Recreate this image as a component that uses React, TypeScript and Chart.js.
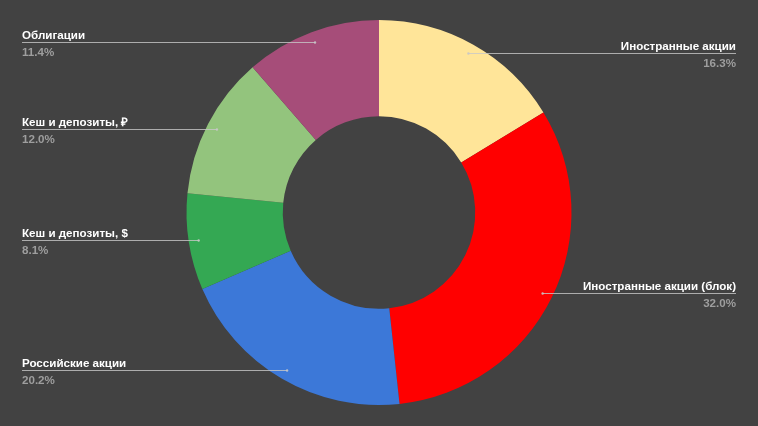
import React, { useEffect, useRef } from "react";
import { Chart, registerables } from "chart.js";

Chart.register(...registerables);

const categories = [
  "Иностранные акции",
  "Иностранные акции (блок)",
  "Российские акции",
  "Кеш и депозиты, $",
  "Кеш и депозиты, ₽",
  "Облигации",
];
const values = [16.3, 32.0, 20.2, 8.1, 12.0, 11.4];
const percentLabels = ["16.3%", "32.0%", "20.2%", "8.1%", "12.0%", "11.4%"];
const colors = ["#FFE599", "#FF0000", "#3C78D8", "#34A853", "#93C47D", "#A64D79"];

const BG = "#424242";

const labelPlugin = {
  id: "leaderLabels",
  afterDatasetsDraw(chart: any) {
    const ctx = chart.ctx as CanvasRenderingContext2D;
    const meta = chart.getDatasetMeta(0);
    const leftX = 22;
    const rightX = chart.width - 22;
    ctx.save();
    meta.data.forEach((arc: any, i: number) => {
      const p = arc.getProps(["x", "y", "startAngle", "endAngle", "outerRadius"], true);
      const mid = (p.startAngle + p.endAngle) / 2;
      const r = p.outerRadius * 0.948;
      const px = p.x + Math.cos(mid) * r;
      const py = Math.round(p.y + Math.sin(mid) * r) + 0.5;
      const left = px < p.x;
      ctx.strokeStyle = "rgba(200,200,200,0.8)";
      ctx.lineWidth = 1;
      ctx.beginPath();
      if (left) {
        ctx.moveTo(leftX, py);
        ctx.lineTo(px, py);
      } else {
        ctx.moveTo(px, py);
        ctx.lineTo(rightX, py);
      }
      ctx.stroke();
      ctx.fillStyle = "rgba(200,200,200,0.9)";
      ctx.beginPath();
      ctx.arc(px, py, 1.2, 0, Math.PI * 2);
      ctx.fill();
      ctx.textAlign = left ? "left" : "right";
      ctx.textBaseline = "alphabetic";
      ctx.font = "bold 11.6px 'Liberation Sans', Arial, sans-serif";
      ctx.fillStyle = "#FFFFFF";
      const tx = left ? leftX : rightX;
      ctx.fillText(categories[i], tx, py - 4);
      ctx.fillStyle = "#9E9E9E";
      ctx.fillText(percentLabels[i], tx, py + 13);
    });
    ctx.restore();
  },
};

export default function App() {
  const ref = useRef<HTMLCanvasElement>(null);
  useEffect(() => {
    document.body.style.margin = "0";
    const chart = new Chart(ref.current!, {
      type: "doughnut",
      data: {
        labels: categories,
        datasets: [
          {
            data: values,
            backgroundColor: colors,
            borderWidth: 0,
          },
        ],
      },
      options: {
        animation: false,
        responsive: false,
        cutout: "50%",
        layout: { padding: { top: 20, bottom: 21, left: 0, right: 0 } },
        plugins: {
          legend: { display: false },
          tooltip: { enabled: false },
        },
      },
      plugins: [labelPlugin],
    });
    return () => chart.destroy();
  }, []);
  return (
    <div style={{ width: 758, height: 426, background: BG }}>
      <canvas ref={ref} width={758} height={426} style={{ display: "block" }} />
    </div>
  );
}
